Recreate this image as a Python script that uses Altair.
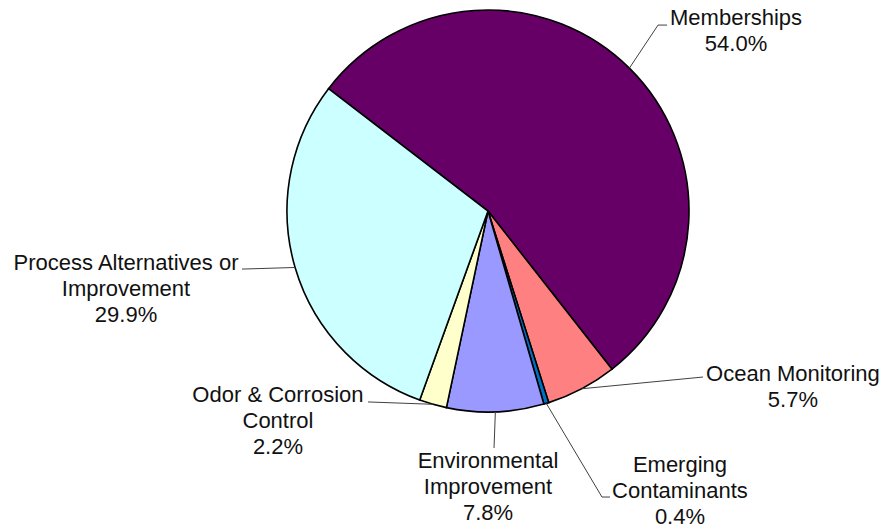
import math
import altair as alt
import pandas as pd

# ---- data ----
categories = [
    "Memberships",
    "Ocean Monitoring",
    "Emerging Contaminants",
    "Environmental Improvement",
    "Odor & Corrosion Control",
    "Process Alternatives or Improvement",
]
label_lines = [
    "Memberships",
    "Ocean Monitoring",
    "Emerging\nContaminants",
    "Environmental\nImprovement",
    "Odor & Corrosion\nControl",
    "Process Alternatives or\nImprovement",
]
values = [54.0, 5.7, 0.4, 7.8, 2.2, 29.9]

# ---- style ----
colors = ["#660066", "#FF8080", "#0070C0", "#9999FF", "#FFFFCC", "#CCFFFF"]

# ---- layout (label placement, in pie-radius units relative to the pie centre) ----
elbow_x = [0.846, 1.070, 0.567, 0.030, -0.597, -1.224]
elbow_y = [-0.925, 0.826, 1.423, 1.179, 0.950, 0.289]
end_x = [0.891, 1.070, 0.607, 0.030, -0.597, -1.224]
end_y = [-0.925, 0.826, 1.423, 1.179, 0.950, 0.289]
text_x = [1.234, 1.517, 0.955, 0.000, -1.045, -1.801]
text_y = [-0.960, 0.811, 1.264, 1.244, 0.915, 0.259]

W, H = 887, 531
CX, CY, R = 488, 211, 201
START = -52.5 * math.pi / 180

df = pd.DataFrame({
    "category": categories,
    "label": label_lines,
    "value": values,
    "idx": list(range(len(categories))),
    "elbow_x": elbow_x, "elbow_y": elbow_y,
    "end_x": end_x, "end_y": end_y,
    "text_x": text_x, "text_y": text_y,
})

xs = alt.Scale(domain=[-CX / R, (W - CX) / R], range=[0, W], nice=False, zero=False)
ys = alt.Scale(domain=[-CY / R, (H - CY) / R], range=[0, H], nice=False, zero=False)

arcs = alt.Chart().mark_arc(radius=R, stroke="black", strokeWidth=1.6).encode(
    theta=alt.Theta("value:Q", stack=True,
                    scale=alt.Scale(range=[START, START + 2 * math.pi])),
    color=alt.Color("category:N", scale=alt.Scale(domain=categories, range=colors), legend=None),
    order=alt.Order("idx:Q"),
    x=alt.XDatum(0, type="quantitative", scale=xs, axis=None),
    y=alt.YDatum(0, type="quantitative", scale=ys, axis=None),
)

lead1 = alt.Chart().mark_rule(color="#404040", strokeWidth=1).encode(
    x=alt.X("ex:Q", scale=xs, axis=None),
    y=alt.Y("ey:Q", scale=ys, axis=None),
    x2="elbow_x:Q",
    y2="elbow_y:Q",
)
lead2 = alt.Chart().mark_rule(color="#404040", strokeWidth=1).encode(
    x=alt.X("elbow_x:Q", scale=xs, axis=None),
    y=alt.Y("elbow_y:Q", scale=ys, axis=None),
    x2="end_x:Q",
    y2="end_y:Q",
)

labels = alt.Chart().mark_text(
    font="Liberation Sans", fontSize=22, lineBreak="\n", lineHeight=26,
    align="center", baseline="middle", color="#111111",
).encode(
    x=alt.X("text_x:Q", scale=xs, axis=None),
    y=alt.Y("text_y:Q", scale=ys, axis=None),
    text="txt:N",
)

chart = alt.layer(arcs, lead1, lead2, labels, data=df).transform_joinaggregate(
    total="sum(value)"
).transform_window(
    cum="sum(value)", sort=[alt.SortField("idx")], frame=[None, 0]
).transform_calculate(
    mid=f"{START} + 2*PI*(datum.cum - datum.value/2)/datum.total",
    ex="sin(datum.mid)",
    ey="-cos(datum.mid)",
    txt="datum.label + '\\n' + format(datum.value, '.1f') + '%'",
).properties(
    width=W, height=H, autosize="none", padding=0, background="white"
).configure_view(stroke=None)

chart.save("out.html", embed_options={"renderer": "svg", "actions": False})
